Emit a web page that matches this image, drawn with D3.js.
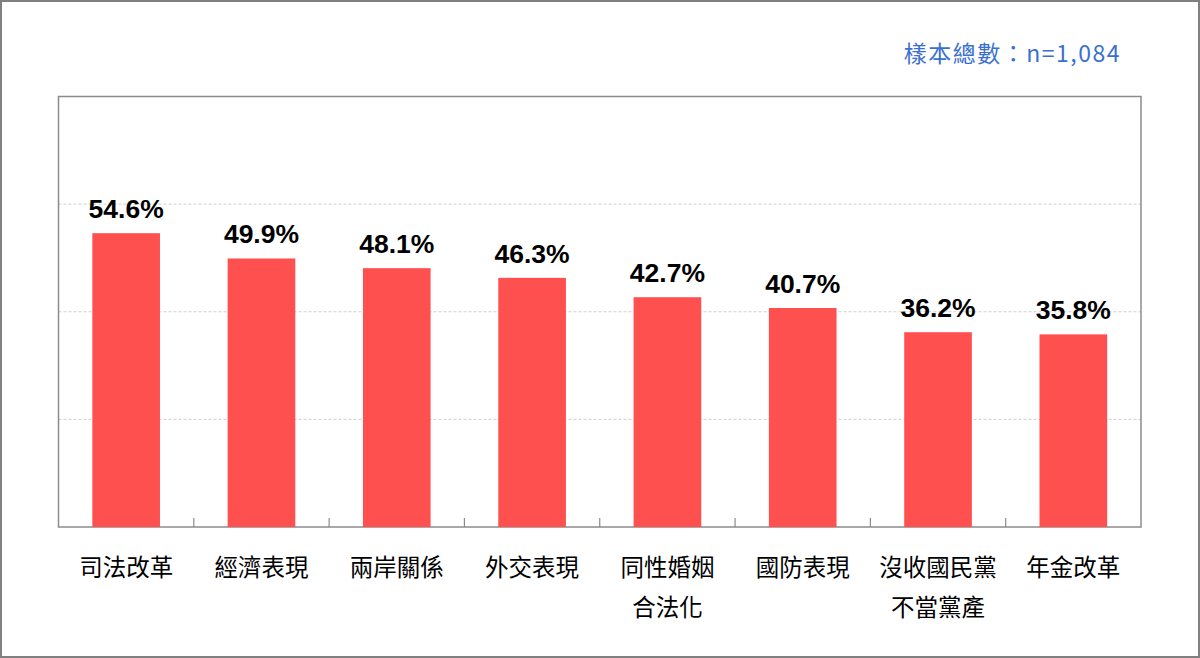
<!DOCTYPE html>
<html>
<head>
<meta charset="utf-8">
<script src="https://cdn.jsdelivr.net/npm/d3@7"></script>
<style>
  html, body { margin: 0; padding: 0; background: #fff; }
  svg { display: block; }
</style>
</head>
<body>
<svg id="chart"></svg>
<script>
const categories = ['司法改革', '經濟表現', '兩岸關係', '外交表現', '同性婚姻\n合法化', '國防表現', '沒收國民黨\n不當黨產', '年金改革'];
const values = [54.6, 49.9, 48.1, 46.3, 42.7, 40.7, 36.2, 35.8];
const gridTicks = [20, 40, 60, 80];
const sampleNote = '樣本總數：n=1,084';

const width = 1200, height = 658;
const margin = { top: 96.5, right: 59, bottom: 131, left: 58.5 };
const cjk = '"Noto Sans CJK TC", "Noto Sans CJK SC", sans-serif';

const svg = d3.select('#chart')
  .attr('width', width)
  .attr('height', height);

// outer frame
svg.append('rect')
  .attr('x', 1).attr('y', 1)
  .attr('width', width - 2).attr('height', height - 2)
  .attr('fill', '#fff')
  .attr('stroke', '#808080')
  .attr('stroke-width', 2);

const x = d3.scaleBand()
  .domain(categories)
  .range([margin.left, width - margin.right])
  .paddingInner(0.5)
  .paddingOuter(0.25);

const y = d3.scaleLinear()
  .domain([0, 80])
  .range([height - margin.bottom, margin.top]);

// dashed gridlines
svg.append('g')
  .selectAll('line')
  .data(gridTicks.slice(0, -1))
  .join('line')
  .attr('x1', margin.left)
  .attr('x2', width - margin.right)
  .attr('y1', d => y(d))
  .attr('y2', d => y(d))
  .attr('stroke', '#cfcfcf')
  .attr('stroke-width', 1)
  .attr('stroke-dasharray', '3,2');

// plot box
svg.append('rect')
  .attr('x', margin.left)
  .attr('y', y(80))
  .attr('width', width - margin.right - margin.left)
  .attr('height', y(0) - y(80))
  .attr('fill', 'none')
  .attr('stroke', '#8c8c8c')
  .attr('stroke-width', 1.5);

// bars
svg.append('g')
  .selectAll('rect')
  .data(values)
  .join('rect')
  .attr('x', (d, i) => x(categories[i]))
  .attr('y', d => y(d))
  .attr('width', x.bandwidth())
  .attr('height', d => y(0) - y(d))
  .attr('fill', '#ff5050');

// category boundary ticks (pointing up into the plot)
const step = x.step();
svg.append('g')
  .selectAll('line')
  .data(categories.slice(1))
  .join('line')
  .attr('x1', d => x(d) - step * 0.25)
  .attr('x2', d => x(d) - step * 0.25)
  .attr('y1', y(0))
  .attr('y2', y(0) - 9)
  .attr('stroke', '#8c8c8c')
  .attr('stroke-width', 1.2);

// value labels
svg.append('g')
  .selectAll('text')
  .data(values)
  .join('text')
  .attr('x', (d, i) => x(categories[i]) + x.bandwidth() / 2)
  .attr('y', d => y(d) - 15)
  .attr('text-anchor', 'middle')
  .attr('font-family', '"Liberation Sans", Arial, sans-serif')
  .attr('font-weight', 'bold')
  .attr('font-size', 26.5)
  .attr('fill', '#000')
  .text(d => d.toFixed(1) + '%');

// category labels
const catLabels = svg.append('g')
  .selectAll('text')
  .data(categories)
  .join('text')
  .attr('x', d => x(d) + x.bandwidth() / 2)
  .attr('y', 576)
  .attr('text-anchor', 'middle')
  .attr('font-family', cjk)
  .attr('font-size', 23.5)
  .attr('fill', '#000');

catLabels.selectAll('tspan')
  .data(d => d.split('\n'))
  .join('tspan')
  .attr('x', function () { return d3.select(this.parentNode).attr('x'); })
  .attr('dy', (d, i) => i === 0 ? 0 : 40)
  .text(d => d);

// sample size note
svg.append('text')
  .attr('x', 1121)
  .attr('y', 62)
  .attr('text-anchor', 'end')
  .attr('font-family', cjk)
  .attr('font-size', 23)
  .attr('letter-spacing', 1.5)
  .attr('fill', '#3a6fd0')
  .text(sampleNote);
</script>
</body>
</html>
